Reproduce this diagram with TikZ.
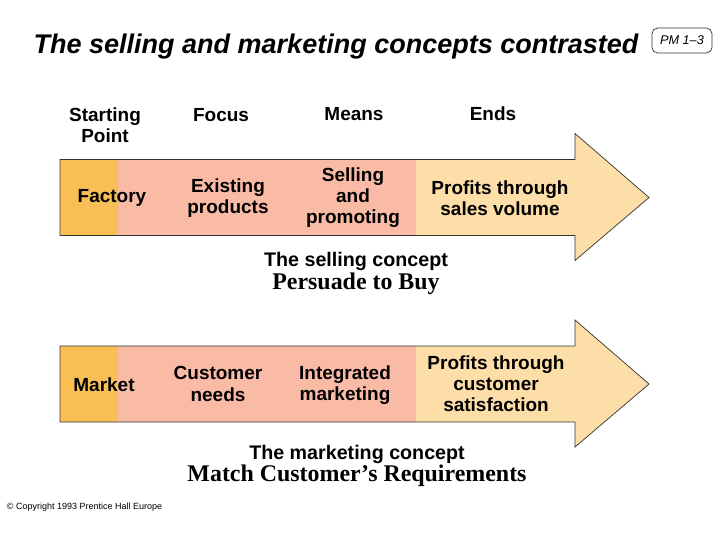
\documentclass[tikz,border=0pt]{standalone}
\usepackage{fontspec}
\setmainfont{Liberation Serif}
\setsansfont{Liberation Sans}
\definecolor{startband}{HTML}{F9BF55}
\definecolor{midband}{HTML}{F9BBA6}
\definecolor{endband}{HTML}{FDDDA8}
\tikzset{
  label/.style={font=\sffamily\bfseries\fontsize{13.5}{15}\selectfont, align=center},
  caption/.style={font=\sffamily\bfseries\fontsize{14}{16}\selectfont},
  motto/.style={font=\rmfamily\bfseries\fontsize{17}{19}\selectfont},
  outline/.style={draw=black!80, line width=0.5pt}
}
\begin{document}
\begin{tikzpicture}[x=0.025cm, y=-0.025cm]
\useasboundingbox (0,0) rectangle (720,540);
% title and slide number
\node[font=\sffamily\bfseries\itshape\fontsize{19.2}{21}\selectfont] (title) at (336,47) {The selling and marketing concepts contrasted};
\draw[outline, rounded corners=4pt] (652,28) rectangle (712,53);
\node[font=\sffamily\itshape\fontsize{9}{10}\selectfont] (pm) at (682,40.5) {PM 1--3};
% column headings
\node[label] (start) at (105,125) {Starting\\Point};
\node[label] (focus) at (221,115) {Focus};
\node[label] (means) at (354,114) {Means};
\node[label] (ends) at (493,114) {Ends};
% the two arrows
\foreach \yc in {197.5,384} {
  \fill[endband] (60,\yc-38) -- (575,\yc-38) -- (575,\yc-64) -- (649,\yc) -- (575,\yc+63) -- (575,\yc+38) -- (60,\yc+38) -- cycle;
  \fill[midband] (118,\yc-38) rectangle (416,\yc+38);
  \fill[startband] (60,\yc-38) rectangle (118,\yc+38);
  \draw[outline] (60,\yc-38) -- (575,\yc-38) -- (575,\yc-64) -- (649,\yc) -- (575,\yc+63) -- (575,\yc+38) -- (60,\yc+38) -- cycle;
}
% selling concept
\node[label] (factory) at (112,198) {Factory};
\node[label] (existing) at (228,198) {Existing\\products};
\node[label] (selling) at (353,198) {Selling\\and\\promoting};
\node[label] (volume) at (500,198) {Profits through\\sales volume};
\node[caption] (sellcap) at (356,261) {The selling concept};
\node[motto] (persuade) at (356,284) {Persuade to Buy};
% marketing concept
\node[label] (market) at (104,385) {Market};
\node[label] (needs) at (218,384) {Customer\\needs};
\node[label] (integrated) at (345,385) {Integrated\\marketing};
\node[label] (satisfaction) at (496,384) {Profits through\\customer\\satisfaction};
\node[caption] (mktcap) at (357,454) {The marketing concept};
\node[motto] (match) at (357,476) {Match Customer’s Requirements};
% footer
\node[font=\sffamily\fontsize{6.4}{7}\selectfont, anchor=west] (copy) at (2,507) {© Copyright 1993 Prentice Hall Europe};
\end{tikzpicture}
\end{document}
